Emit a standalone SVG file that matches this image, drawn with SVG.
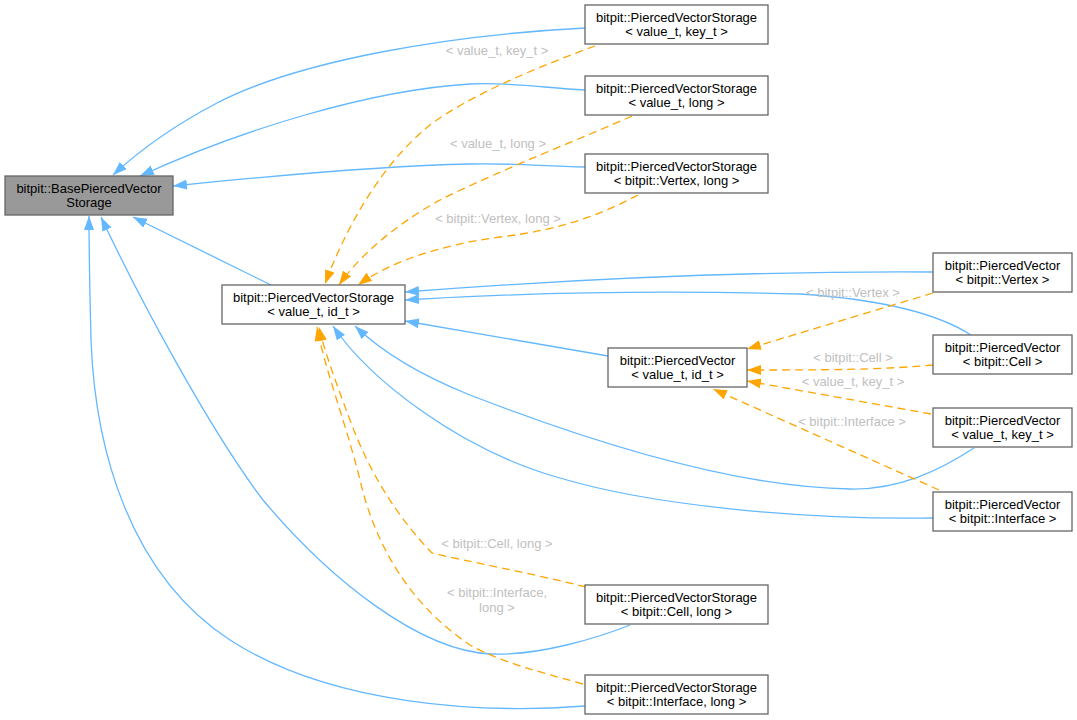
<svg xmlns="http://www.w3.org/2000/svg" width="1077" height="720" viewBox="0 0 1077 720">
<defs>
<style>
.nd rect{fill:#ffffff;stroke:#666666;stroke-width:1.3}
.nd.base rect{fill:#999999}
.nd text{font-family:"Liberation Sans",Arial,sans-serif;font-size:13px;fill:#000000;text-anchor:middle}
.inh{fill:none;stroke:#63b8ff;stroke-width:1.3;marker-end:url(#ab)}
.tpl{fill:none;stroke:#ffa500;stroke-width:1.3;stroke-dasharray:8,5;marker-end:url(#ao)}
.lbl{font-family:"Liberation Sans",Arial,sans-serif;font-size:13px;fill:#c0c0c0;text-anchor:middle}
</style>
<marker id="ab" markerUnits="userSpaceOnUse" markerWidth="15" markerHeight="11" refX="14" refY="5" orient="auto"><path d="M0,0 L14,5 L0,10 z" fill="#63b8ff"/></marker>
<marker id="ao" markerUnits="userSpaceOnUse" markerWidth="15" markerHeight="11" refX="14" refY="5" orient="auto"><path d="M0,0 L14,5 L0,10 z" fill="#ffa500"/></marker>
</defs>
<rect width="1077" height="720" fill="#ffffff"/>
<g id="connectors">
<path class="inh" d="M585,28 C450,35 300,60 217,103 C175,125 140,150 113,175"/>
<path class="inh" d="M585,90 C545,88 510,82 470,84 C370,90 240,130 140,176"/>
<path class="inh" d="M585,167 C540,166 510,163 470,164 C380,166 260,177 173,186"/>
<path class="inh" d="M271,285 L133,217"/>
<path class="inh" d="M630,625 C600,637 540,656 491,654 C420,651 330,580 263,500 C210,430 140,300 101,217"/>
<path class="inh" d="M585,706 C480,714 330,705 230,640 C130,575 95,450 91,340 C90,300 89,260 89,216"/>
<path class="inh" d="M933,272 C780,271 600,277 405,292"/>
<path class="inh" d="M971,335 C940,315 890,300 800,294 C650,290 520,293 405,300"/>
<path class="inh" d="M608,356 L405,321"/>
<path class="inh" d="M974,448 C940,470 900,490 850,489 C720,487 560,430 470,395 C420,375 380,350 355,326"/>
<path class="inh" d="M933,518 C800,520 650,505 560,478 C460,450 370,380 333,326"/>
<path class="tpl" d="M595,46 C540,66 470,95 430,125 C380,165 345,230 325,284"/>
<path class="tpl" d="M632,116 C590,135 500,170 440,200 C395,225 360,255 339,285"/>
<path class="tpl" d="M638,195 C600,215 560,230 500,237 C440,245 390,262 358,285"/>
<path class="tpl" d="M586,587 C530,573 470,562 432,553 C400,520 370,475 350,420 C335,380 324,350 319,327"/>
<path class="tpl" d="M583,684 C540,672 500,662 470,645 C410,605 375,545 360,480 C345,420 325,370 317,327"/>
<path class="tpl" d="M933,293 L747,349"/>
<path class="tpl" d="M933,365 C880,370 820,370 747,370"/>
<path class="tpl" d="M931,414 L747,381"/>
<path class="tpl" d="M939,490 L713,389"/>
<text class="lbl" x="497" y="55">&lt; value_t, key_t &gt;</text>
<text class="lbl" x="498" y="148">&lt; value_t, long &gt;</text>
<text class="lbl" x="498" y="223">&lt; bitpit::Vertex, long &gt;</text>
<text class="lbl" x="497" y="548">&lt; bitpit::Cell, long &gt;</text>
<text class="lbl" x="497" y="597">&lt; bitpit::Interface,</text>
<text class="lbl" x="497" y="612">long &gt;</text>
<text class="lbl" x="853" y="297">&lt; bitpit::Vertex &gt;</text>
<text class="lbl" x="853" y="362">&lt; bitpit::Cell &gt;</text>
<text class="lbl" x="853" y="386">&lt; value_t, key_t &gt;</text>
<text class="lbl" x="852" y="426">&lt; bitpit::Interface &gt;</text>
</g>
<g id="node_base" class="nd base"><rect x="5" y="176" width="168" height="39"/><text x="89" y="192.5">bitpit::BasePiercedVector</text><text x="89" y="207">Storage</text></g>
<g id="node_pvs_id" class="nd"><rect x="222" y="285" width="183" height="39"/><text x="313.5" y="301.5">bitpit::PiercedVectorStorage</text><text x="313.5" y="316">&lt; value_t, id_t &gt;</text></g>
<g id="node_pvs_key" class="nd"><rect x="585" y="5" width="183" height="39"/><text x="676.5" y="21.5">bitpit::PiercedVectorStorage</text><text x="676.5" y="36">&lt; value_t, key_t &gt;</text></g>
<g id="node_pvs_long" class="nd"><rect x="585" y="76" width="183" height="39"/><text x="676.5" y="92.5">bitpit::PiercedVectorStorage</text><text x="676.5" y="107">&lt; value_t, long &gt;</text></g>
<g id="node_pvs_vertex" class="nd"><rect x="585" y="154" width="183" height="39"/><text x="676.5" y="170.5">bitpit::PiercedVectorStorage</text><text x="676.5" y="185">&lt; bitpit::Vertex, long &gt;</text></g>
<g id="node_pvs_cell" class="nd"><rect x="585" y="585" width="183" height="39"/><text x="676.5" y="601.5">bitpit::PiercedVectorStorage</text><text x="676.5" y="616">&lt; bitpit::Cell, long &gt;</text></g>
<g id="node_pvs_iface" class="nd"><rect x="585" y="675" width="183" height="39"/><text x="676.5" y="691.5">bitpit::PiercedVectorStorage</text><text x="676.5" y="706">&lt; bitpit::Interface, long &gt;</text></g>
<g id="node_pv_id" class="nd"><rect x="608" y="348" width="139" height="39"/><text x="677.5" y="364.5">bitpit::PiercedVector</text><text x="677.5" y="379">&lt; value_t, id_t &gt;</text></g>
<g id="node_pv_vertex" class="nd"><rect x="933" y="253" width="139" height="39"/><text x="1002.5" y="269.5">bitpit::PiercedVector</text><text x="1002.5" y="284">&lt; bitpit::Vertex &gt;</text></g>
<g id="node_pv_cell" class="nd"><rect x="933" y="335" width="139" height="39"/><text x="1002.5" y="351.5">bitpit::PiercedVector</text><text x="1002.5" y="366">&lt; bitpit::Cell &gt;</text></g>
<g id="node_pv_key" class="nd"><rect x="933" y="408" width="139" height="39"/><text x="1002.5" y="424.5">bitpit::PiercedVector</text><text x="1002.5" y="439">&lt; value_t, key_t &gt;</text></g>
<g id="node_pv_iface" class="nd"><rect x="933" y="492" width="139" height="39"/><text x="1002.5" y="508.5">bitpit::PiercedVector</text><text x="1002.5" y="523">&lt; bitpit::Interface &gt;</text></g>
</svg>
